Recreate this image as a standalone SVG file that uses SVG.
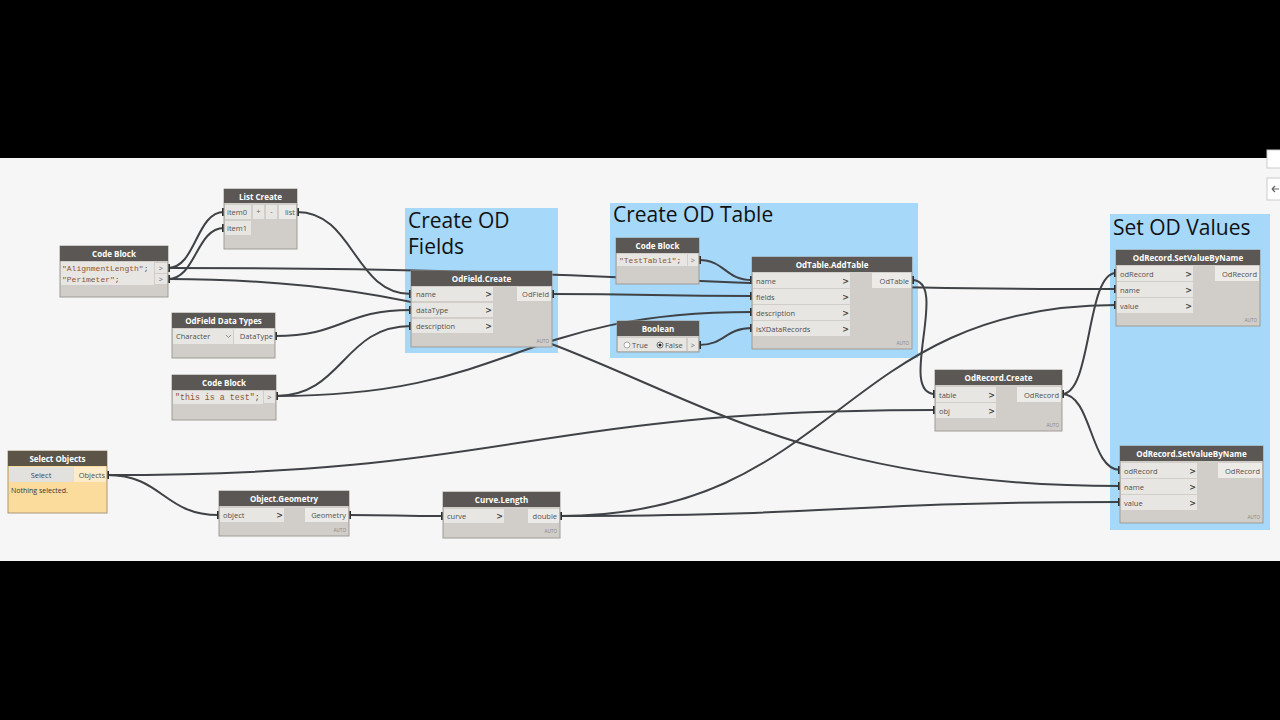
<svg xmlns="http://www.w3.org/2000/svg" width="1280" height="720" viewBox="0 0 1280 720">
<style>
.hd{fill:#5a5754}
.bd{fill:#d1cec9;stroke:#9e9b96;stroke-width:1}
.in{fill:#e8e6e2}
.out{fill:#edebe8}
.ht{font-family:"Open Sans","Liberation Sans",sans-serif;font-size:8px;font-weight:700;fill:#ffffff;text-anchor:middle}
.pt{font-family:"Open Sans","Liberation Sans",sans-serif;font-size:7.5px;fill:#505050}
.pr{text-anchor:end}
.ch{font-family:"DejaVu Sans",sans-serif;font-size:8px;font-weight:700;fill:#444444;text-anchor:end}
.cp{font-family:"Open Sans","Liberation Sans",sans-serif;font-size:7.5px;fill:#666666;text-anchor:middle}
.cd{font-family:"Liberation Mono","DejaVu Sans Mono",monospace;font-size:8px;fill:#8a5636}
.sc{fill:#444444}
.au{font-family:"Liberation Sans",sans-serif;font-size:4.5px;fill:#8a8a8a;text-anchor:end}
.gt{font-family:"Open Sans","Liberation Sans",sans-serif;font-size:21px;fill:#111111}
.grp{fill:#a6d8f9}
.wire{fill:none;stroke:#3f4246;stroke-width:2;marker-start:url(#pm);marker-end:url(#pm)}
</style>
<defs>
<marker id="pm" markerUnits="userSpaceOnUse" markerWidth="4" markerHeight="8" refX="2" refY="4" orient="0">
<rect x="0" y="0" width="4" height="8" fill="#2e2e2e"/>
</marker>
</defs>
<rect x="0" y="0" width="1280" height="720" fill="#000000"/>
<rect x="0" y="158" width="1280" height="403" fill="#f6f6f6"/>
<rect x="1267" y="150" width="14" height="18" fill="#ffffff" stroke="#cccccc"/>
<rect x="1267" y="178" width="14" height="22" fill="#ffffff" stroke="#cccccc"/>
<path d="M1272,189 h7 M1272,189 l3,-3 M1272,189 l3,3" stroke="#666666" stroke-width="1.2" fill="none"/>

<g id="group-fields">
<rect class="grp" x="405" y="208" width="153" height="145"/>
<text class="gt" x="408" y="228">Create OD</text>
<text class="gt" x="408" y="254">Fields</text>
</g>
<g id="group-table">
<rect class="grp" x="610" y="203" width="308" height="155"/>
<text class="gt" x="613" y="222">Create OD Table</text>
</g>
<g id="group-values">
<rect class="grp" x="1110" y="214" width="160" height="316"/>
<text class="gt" x="1113" y="235">Set OD Values</text>
</g>

<g id="connectors">
<path class="wire" d="M168,268 C196,268 196,212 224,212"/>
<path class="wire" d="M168,279 C196,279 196,228 224,228"/>
<path class="wire" d="M168,268 C642,268 642,289 1116,289"/>
<path class="wire" d="M168,279 C644,279 644,486 1120,486"/>
<path class="wire" d="M297,212 C354,212 354,294 411,294"/>
<path class="wire" d="M275,336 C343,336 343,310 411,310"/>
<path class="wire" d="M276,396 C343,396 343,326 411,326"/>
<path class="wire" d="M276,396 C514,396 514,312 752,312"/>
<path class="wire" d="M552,294 C652,294 652,296 752,296"/>
<path class="wire" d="M699,260 C725,260 725,280 752,280"/>
<path class="wire" d="M699,345 C725,345 725,328 752,328"/>
<path class="wire" d="M912,280 C950,280 897,394 935,394"/>
<path class="wire" d="M107,475 C521,475 521,410 935,410"/>
<path class="wire" d="M107,475 C163,475 163,515 219,515"/>
<path class="wire" d="M349,515 C396,515 396,516 443,516"/>
<path class="wire" d="M560,516 C840,516 840,502 1120,502"/>
<path class="wire" d="M560,516 C838,516 838,305 1116,305"/>
<path class="wire" d="M1062,394 C1092,394 1086,273 1116,273"/>
<path class="wire" d="M1062,394 C1092,394 1090,470 1120,470"/>
</g>

<g id="node-list-create">
<rect class="bd" x="224" y="189" width="73" height="60"/>
<rect class="hd" x="224" y="189" width="73" height="14"/>
<text class="ht" x="260.5" y="199.5">List Create</text>
<rect class="in" x="225" y="205" width="26" height="14"/>
<text class="pt" x="227" y="215">item0</text>
<rect class="in" x="253" y="205" width="11" height="14"/>
<text class="cp" x="258.5" y="214">+</text>
<rect class="in" x="266" y="205" width="11" height="14"/>
<text class="cp" x="271.5" y="214">-</text>
<rect class="out" x="279" y="205" width="17" height="14"/>
<text class="pt pr" x="295" y="215">list</text>
<rect class="in" x="225" y="221" width="26" height="14"/>
<text class="pt" x="227" y="231">item1</text>
</g>

<g id="node-code-block-1">
<rect class="bd" x="60" y="246" width="108" height="51"/>
<rect class="hd" x="60" y="246" width="108" height="15"/>
<text class="ht" x="114" y="257">Code Block</text>
<rect class="in" x="61" y="262" width="93" height="23"/>
<text class="cd" x="62" y="271">"AlignmentLength"<tspan class="sc">;</tspan></text>
<text class="cd" x="62" y="282">"Perimeter"<tspan class="sc">;</tspan></text>
<rect class="in" x="155" y="263" width="12" height="10"/>
<rect class="in" x="155" y="274" width="12" height="10"/>
<text class="cp" x="161" y="271">&gt;</text>
<text class="cp" x="161" y="282">&gt;</text>
</g>

<g id="node-odfield-data-types">
<rect class="bd" x="172" y="313" width="103" height="45"/>
<rect class="hd" x="172" y="313" width="103" height="15"/>
<text class="ht" x="223.5" y="324">OdField Data Types</text>
<rect class="in" x="173" y="329" width="60" height="15"/>
<text class="pt" x="176" y="338.5" fill="#3a3a3a">Character</text>
<polyline points="226,335 228.5,337.5 231,335" fill="none" stroke="#777777" stroke-width="0.8"/>
<rect class="out" x="234" y="329" width="40" height="15"/>
<text class="pt pr" x="273" y="339">DataType</text>
</g>

<g id="node-code-block-2">
<rect class="bd" x="172" y="375" width="104" height="45"/>
<rect class="hd" x="172" y="375" width="104" height="15"/>
<text class="ht" x="224" y="386">Code Block</text>
<rect class="in" x="173" y="391" width="90" height="13"/>
<text class="cd" x="175" y="399.5" style="font-size:8.3px">"this is a test"<tspan class="sc">;</tspan></text>
<rect class="in" x="264" y="391" width="11" height="12"/>
<text class="cp" x="269.5" y="399.5">&gt;</text>
</g>

<g id="node-odfield-create">
<rect class="bd" x="411" y="271" width="141" height="76"/>
<rect class="hd" x="411" y="271" width="141" height="15"/>
<text class="ht" x="481.5" y="282">OdField.Create</text>
<rect class="in" x="412" y="287" width="81" height="14"/>
<rect class="in" x="412" y="303" width="81" height="14"/>
<rect class="in" x="412" y="319" width="81" height="14"/>
<text class="pt" x="416" y="297">name</text>
<text class="pt" x="416" y="313">dataType</text>
<text class="pt" x="416" y="329">description</text>
<text class="ch" x="492" y="297">&gt;</text>
<text class="ch" x="492" y="313">&gt;</text>
<text class="ch" x="492" y="329">&gt;</text>
<rect class="out" x="517" y="287" width="34" height="14"/>
<text class="pt pr" x="549" y="297">OdField</text>
<text class="au" x="549" y="343">AUTO</text>
</g>

<g id="node-code-block-3">
<rect class="bd" x="616" y="238" width="83" height="46"/>
<rect class="hd" x="616" y="238" width="83" height="15"/>
<text class="ht" x="657.5" y="249">Code Block</text>
<rect class="in" x="617" y="254" width="70" height="12"/>
<text class="cd" x="619" y="263">"TestTable1"<tspan class="sc">;</tspan></text>
<rect class="in" x="688" y="254" width="10" height="12"/>
<text class="cp" x="693" y="263">&gt;</text>
</g>

<g id="node-boolean">
<rect class="bd" x="617" y="321" width="82" height="31"/>
<rect class="hd" x="617" y="321" width="82" height="15"/>
<text class="ht" x="658" y="332">Boolean</text>
<rect class="in" x="618" y="338" width="68" height="13"/>
<circle cx="627" cy="345" r="3" fill="#ffffff" stroke="#888888" stroke-width="0.7"/>
<text class="pt" x="632" y="348" fill="#3a3a3a">True</text>
<circle cx="660" cy="345" r="3" fill="#ffffff" stroke="#333333" stroke-width="0.7"/>
<circle cx="660" cy="345" r="1.6" fill="#222222"/>
<text class="pt" x="665" y="348" fill="#3a3a3a">False</text>
<rect class="in" x="688" y="338" width="10" height="13"/>
<text class="cp" x="693" y="348">&gt;</text>
</g>

<g id="node-odtable-addtable">
<rect class="bd" x="752" y="257" width="160" height="92"/>
<rect class="hd" x="752" y="257" width="160" height="15"/>
<text class="ht" x="832" y="268">OdTable.AddTable</text>
<rect class="in" x="753" y="273" width="97" height="15"/>
<rect class="in" x="753" y="289" width="97" height="15"/>
<rect class="in" x="753" y="305" width="97" height="15"/>
<rect class="in" x="753" y="321" width="97" height="15"/>
<text class="pt" x="756" y="283.5">name</text>
<text class="pt" x="756" y="299.5">fields</text>
<text class="pt" x="756" y="315.5">description</text>
<text class="pt" x="756" y="331.5">isXDataRecords</text>
<text class="ch" x="849" y="283.5">&gt;</text>
<text class="ch" x="849" y="299.5">&gt;</text>
<text class="ch" x="849" y="315.5">&gt;</text>
<text class="ch" x="849" y="331.5">&gt;</text>
<rect class="out" x="872" y="273" width="39" height="15"/>
<text class="pt pr" x="909" y="283.5">OdTable</text>
<text class="au" x="909" y="345">AUTO</text>
</g>

<g id="node-odrecord-create">
<rect class="bd" x="935" y="370" width="127" height="61"/>
<rect class="hd" x="935" y="370" width="127" height="15"/>
<text class="ht" x="998.5" y="381">OdRecord.Create</text>
<rect class="in" x="936" y="387" width="60" height="15"/>
<rect class="in" x="936" y="403" width="60" height="15"/>
<text class="pt" x="939" y="397.5">table</text>
<text class="pt" x="939" y="413.5">obj</text>
<text class="ch" x="995" y="397.5">&gt;</text>
<text class="ch" x="995" y="413.5">&gt;</text>
<rect class="out" x="1017" y="387" width="44" height="15"/>
<text class="pt pr" x="1059" y="397.5">OdRecord</text>
<text class="au" x="1059" y="427">AUTO</text>
</g>

<g id="node-setvalue-1">
<rect class="bd" x="1116" y="250" width="144" height="76"/>
<rect class="hd" x="1116" y="250" width="144" height="15"/>
<text class="ht" x="1188" y="261">OdRecord.SetValueByName</text>
<rect class="in" x="1117" y="266" width="76" height="15"/>
<rect class="in" x="1117" y="282" width="76" height="15"/>
<rect class="in" x="1117" y="298" width="76" height="15"/>
<text class="pt" x="1120" y="276.5">odRecord</text>
<text class="pt" x="1120" y="292.5">name</text>
<text class="pt" x="1120" y="308.5">value</text>
<text class="ch" x="1192" y="276.5">&gt;</text>
<text class="ch" x="1192" y="292.5">&gt;</text>
<text class="ch" x="1192" y="308.5">&gt;</text>
<rect class="out" x="1215" y="266" width="44" height="15"/>
<text class="pt pr" x="1257" y="276.5">OdRecord</text>
<text class="au" x="1257" y="322">AUTO</text>
</g>

<g id="node-setvalue-2">
<rect class="bd" x="1120" y="446" width="143" height="77"/>
<rect class="hd" x="1120" y="446" width="143" height="15"/>
<text class="ht" x="1191.5" y="457">OdRecord.SetValueByName</text>
<rect class="in" x="1121" y="463" width="76" height="15"/>
<rect class="in" x="1121" y="479" width="76" height="15"/>
<rect class="in" x="1121" y="495" width="76" height="15"/>
<text class="pt" x="1124" y="473.5">odRecord</text>
<text class="pt" x="1124" y="489.5">name</text>
<text class="pt" x="1124" y="505.5">value</text>
<text class="ch" x="1196" y="473.5">&gt;</text>
<text class="ch" x="1196" y="489.5">&gt;</text>
<text class="ch" x="1196" y="505.5">&gt;</text>
<rect class="out" x="1218" y="463" width="44" height="15"/>
<text class="pt pr" x="1260" y="473.5">OdRecord</text>
<text class="au" x="1260" y="519">AUTO</text>
</g>

<g id="node-select-objects">
<rect x="8" y="451" width="99" height="62" fill="#fcdc9d" stroke="#a89878" stroke-width="1"/>
<rect x="8" y="451" width="99" height="15" fill="#5c5547"/>
<text class="ht" x="57.5" y="462">Select Objects</text>
<rect x="9" y="467" width="64" height="15" fill="#e3e1de"/>
<text class="cp" x="41" y="477.5" style="fill:#444444">Select</text>
<rect x="74" y="467" width="32" height="15" fill="#fdebc9"/>
<text class="pt pr" x="105" y="477.5">Objects</text>
<text class="pt" x="11" y="493" style="font-size:7px;fill:#333333">Nothing selected.</text>
</g>

<g id="node-object-geometry">
<rect class="bd" x="219" y="491" width="130" height="45"/>
<rect class="hd" x="219" y="491" width="130" height="15"/>
<text class="ht" x="284" y="502">Object.Geometry</text>
<rect class="in" x="220" y="508" width="64" height="14"/>
<text class="pt" x="223" y="518">object</text>
<text class="ch" x="283" y="518">&gt;</text>
<rect class="out" x="305" y="508" width="43" height="14"/>
<text class="pt pr" x="346" y="518">Geometry</text>
<text class="au" x="346" y="532">AUTO</text>
</g>

<g id="node-curve-length">
<rect class="bd" x="443" y="492" width="117" height="46"/>
<rect class="hd" x="443" y="492" width="117" height="15"/>
<text class="ht" x="501.5" y="503">Curve.Length</text>
<rect class="in" x="444" y="509" width="60" height="14"/>
<text class="pt" x="447" y="519">curve</text>
<text class="ch" x="503" y="519">&gt;</text>
<rect class="out" x="528" y="509" width="31" height="14"/>
<text class="pt pr" x="557" y="519">double</text>
<text class="au" x="557" y="533">AUTO</text>
</g>
</svg>
